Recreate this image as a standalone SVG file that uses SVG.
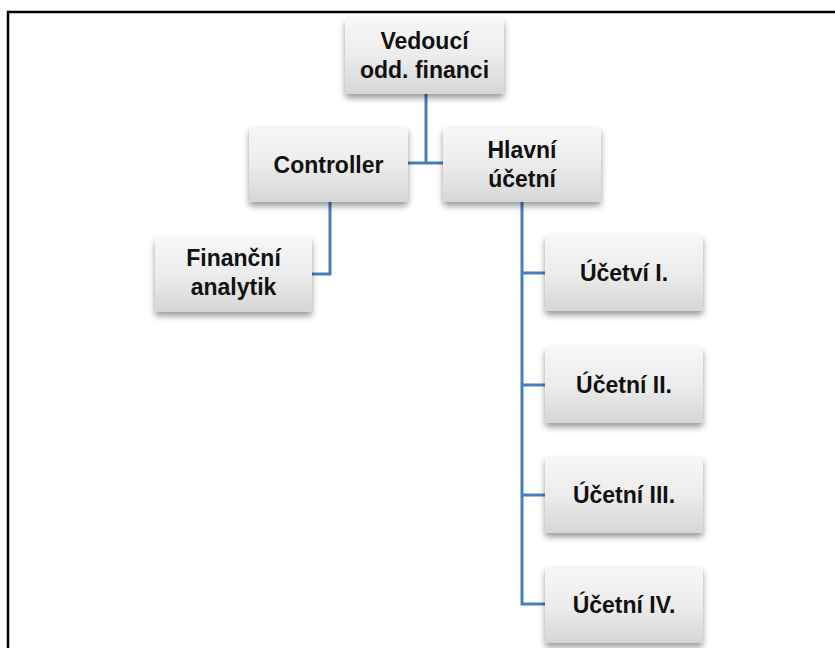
<svg xmlns="http://www.w3.org/2000/svg" width="835" height="648" viewBox="0 0 835 648">
<defs>
<linearGradient id="g" x1="0" y1="0" x2="0" y2="1">
<stop offset="0" stop-color="#f7f7f7"/>
<stop offset="0.5" stop-color="#ececec"/>
<stop offset="1" stop-color="#d6d6d6"/>
</linearGradient>
<filter id="sh" x="-10%" y="-10%" width="125%" height="135%">
<feDropShadow dx="0" dy="4" stdDeviation="3" flood-color="#000" flood-opacity="0.4"/>
</filter>
<style>
.box{fill:url(#g);filter:url(#sh)}
.t{font-family:"Liberation Sans",Arial,sans-serif;font-weight:bold;font-size:23px;fill:#111;text-anchor:middle}
.c{fill:none;stroke:#4a7ebb;stroke-width:3}
</style>
</defs>
<rect width="835" height="648" fill="#fff"/>
<path d="M8 648 V12 H835" fill="none" stroke="#000" stroke-width="2.5"/>
<g id="connectors">
<path class="c" d="M426 94 V163 M408 163 H443"/>
<path class="c" d="M330 202 V274 H312"/>
<path class="c" d="M522 202 V604 H545 M522 273 H545 M522 385 H545 M522 495 H545"/>
</g>
<g id="n-vedouci">
<rect class="box" x="345" y="18" width="159" height="76" rx="3"/>
<text class="t" x="424.5" y="49">Vedoucí</text>
<text class="t" x="424.5" y="78">odd. financi</text>
</g>
<g id="n-controller">
<rect class="box" x="249" y="127" width="159" height="75" rx="3"/>
<text class="t" x="328.5" y="173">Controller</text>
</g>
<g id="n-hlavni">
<rect class="box" x="443" y="127" width="158" height="75" rx="3"/>
<text class="t" x="522" y="158">Hlavní</text>
<text class="t" x="522" y="187">účetní</text>
</g>
<g id="n-financni">
<rect class="box" x="155" y="237" width="157" height="75" rx="3"/>
<text class="t" x="233.5" y="266">Finanční</text>
<text class="t" x="233.5" y="295">analytik</text>
</g>
<g id="n-ucetni1">
<rect class="box" x="545" y="235" width="158" height="76" rx="3"/>
<text class="t" x="624" y="281">Účetví I.</text>
</g>
<g id="n-ucetni2">
<rect class="box" x="545" y="347" width="158" height="76" rx="3"/>
<text class="t" x="624" y="393">Účetní II.</text>
</g>
<g id="n-ucetni3">
<rect class="box" x="545" y="457" width="158" height="76" rx="3"/>
<text class="t" x="624" y="503">Účetní III.</text>
</g>
<g id="n-ucetni4">
<rect class="box" x="545" y="567" width="158" height="76" rx="3"/>
<text class="t" x="624" y="613">Účetní IV.</text>
</g>
</svg>
